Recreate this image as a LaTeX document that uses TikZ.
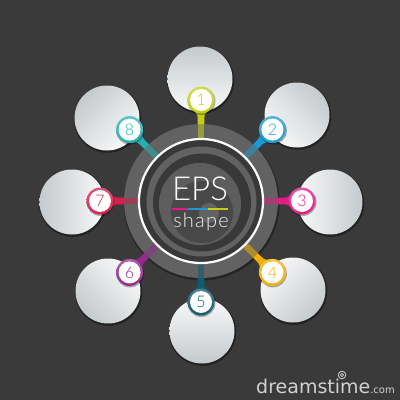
\documentclass[tikz,border=0pt]{standalone}
\usepackage{fontspec}
\setmainfont{Lato}
\IfFontExistsTF{Lato Light}{\newfontfamily\thinfont{Lato Light}\newfontfamily\thinspaced[LetterSpace=6]{Lato Light}}{\newfontfamily\thinfont{Lato}\newfontfamily\thinspaced[LetterSpace=6]{Lato}}
\newfontfamily\wmfont{DejaVu Sans}
\definecolor{bg}{HTML}{3B3A3A}
\definecolor{ringgray}{HTML}{626262}
\definecolor{darkin}{HTML}{383838}
\definecolor{c1}{HTML}{C4CE17}
\definecolor{c2}{HTML}{1C9AD2}
\definecolor{c3}{HTML}{E31B84}
\definecolor{c4}{HTML}{F4B000}
\definecolor{c5}{HTML}{0F5A71}
\definecolor{c6}{HTML}{952A8E}
\definecolor{c7}{HTML}{D81E4C}
\definecolor{c8}{HTML}{27B0B3}
\definecolor{bigshade}{HTML}{C5CACD}
\definecolor{bigwhite}{HTML}{F8F9F9}
\definecolor{wmgray}{HTML}{D2D2D2}
\tikzset{
  bigcircle/.style={circle, minimum size=65pt, inner sep=0pt},
  numring/.style={circle, minimum size=27pt, inner sep=0pt},
  numtext/.style={font=\thinfont\fontsize{16}{16}\selectfont, inner sep=0pt},
}
\begin{document}
\begin{tikzpicture}[x=1pt,y=1pt]
\fill[bg] (-201,-199) rectangle (199,201);
\useasboundingbox (-201,-199) rectangle (199,201);
% big circles
\foreach \n/\x/\y/\a in {1/-1/122/90, 2/96/86/45, 3/129/-1/0, 4/92/-89/-45, 5/1/-130/-90, 6/-93/-90/-135, 7/-129/-1/180, 8/-94/83/135}{
  \pgfmathsetmacro\sa{\a-90}
  \fill[black, opacity=0.4] (\x+0.6,\y-1.2) circle (33.6);
  \node[bigcircle, top color=bigshade, bottom color=bigwhite, shading angle=\sa] (big\n) at (\x,\y) {};
}
% central disc
\fill[black, opacity=0.35] (0.6,-1.5) circle (78);
\fill[ringgray] (0,0) circle (77);
% stems
\foreach \n/\a/\c in {1/90/c1, 2/45/c2, 3/0/c3, 4/-45/c4, 5/-90/c5, 6/-135/c6, 7/180/c7, 8/135/c8}{
  \begin{scope}[rotate=\a]
    \fill[\c, opacity=0.55] (62,-3.3) rectangle (77,3.3);
    \fill[\c] (77,-3.3) -- (83,-3.3) .. controls (87,-3.3) and (89,-5) .. (91,-9) -- (91,9) .. controls (89,5) and (87,3.3) .. (83,3.3) -- (77,3.3) -- cycle;
  \end{scope}
}
% inner spiral
\fill[darkin] (0,0) circle (61);
\draw[white, line width=2.2] (0,0) circle (62);
\fill[ringgray] (0.5,-0.5) circle (55);
\fill[darkin] (1,-1.5) circle (49);
\fill[ringgray!95!black] (-1,-3) circle (41);
\fill[darkin!92!white] (1,-11) circle (31);
\fill[ringgray] (8,-12) circle (10);
% number circles
\foreach \n/\a/\c in {1/90/c1, 2/45/c2, 3/0/c3, 4/-45/c4, 5/-90/c5, 6/-135/c6, 7/180/c7, 8/135/c8}{
  \fill[black, opacity=0.3, shift={(0.5,-1)}] (\a:101) circle (14);
  \node[numring, top color=\c!75!white, bottom color=\c] (n\n) at (\a:101) {};
  \fill[white] (n\n.center) circle (11);
  \node[numtext, text=\c] at (n\n.center) {\n};
}
% center text
\node[font=\thinfont\fontsize{33}{33}\selectfont, text=white, anchor=base, inner sep=0pt] (eps) at (-1,1) {EPS};
\fill[c3] (-29,-9.2) rectangle (-13,-6.8);
\fill[c2] (-13,-9.2) rectangle (7,-6.8);
\fill[c1] (7,-9.2) rectangle (27,-6.8);
\node[font=\thinspaced\fontsize{20}{20}\selectfont, text=white!88!gray, anchor=base, inner sep=0pt] (shp) at (0,-26) {shape};
% watermark
\node[font=\wmfont\fontsize{19}{19}\selectfont, text=wmgray, anchor=base west, inner sep=0pt] (wm) at (55,-192) {dreamstime\fontsize{10}{10}\selectfont.com};
\draw[wmgray, line width=0.8] (141,-174) circle (3.8);
\draw[wmgray, line width=0.8] (141,-174) circle (1.6);
\end{tikzpicture}
\end{document}
